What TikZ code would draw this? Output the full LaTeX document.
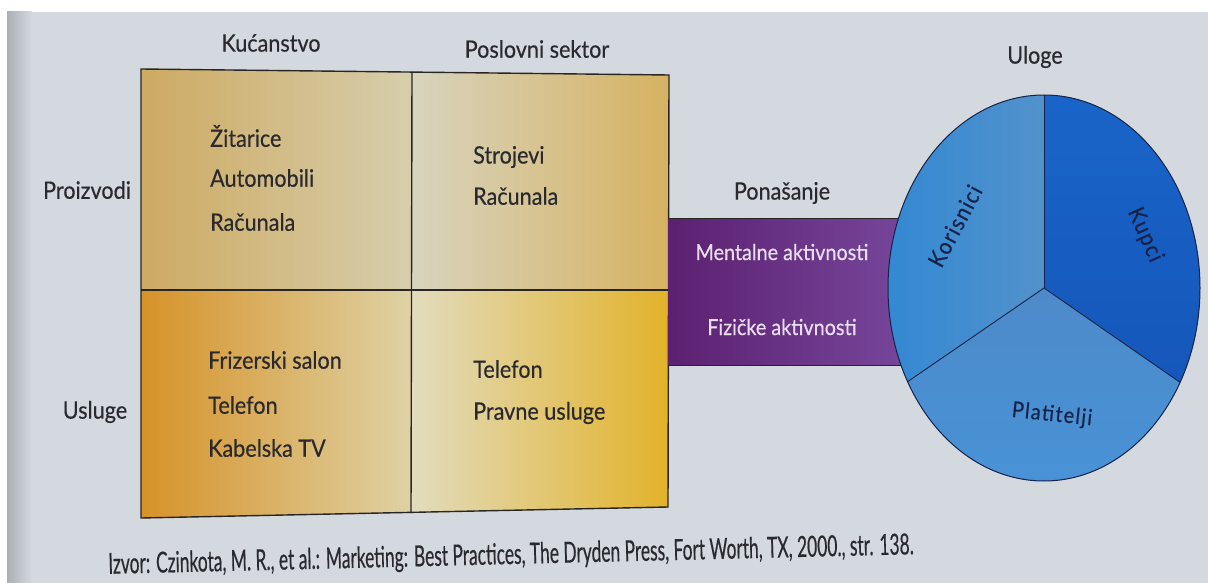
\documentclass[tikz,border=0pt]{standalone}
\usepackage{fontspec}
\setmainfont{Lato}
\newfontfamily\lblfont[FakeStretch=0.9,FakeBold=0.4]{Lato}
\newfontfamily\rolefont[FakeStretch=0.9,FakeBold=0.4,LetterSpace=6]{Lato}
\newfontfamily\condfont[FakeStretch=0.6,FakeBold=0.4]{Lato}
\usetikzlibrary{shapes.geometric}
\definecolor{pagebg}{RGB}{211,217,222}
\definecolor{edgeshade}{RGB}{170,176,182}
\definecolor{ink}{RGB}{42,42,46}
\definecolor{boxline}{RGB}{40,38,36}
\definecolor{tlL}{RGB}{206,170,98}
\definecolor{tlM}{RGB}{211,184,122}
\definecolor{tlR}{RGB}{214,206,172}
\definecolor{trL}{RGB}{216,212,190}
\definecolor{trR}{RGB}{214,178,98}
\definecolor{blL}{RGB}{214,146,40}
\definecolor{blM}{RGB}{219,178,78}
\definecolor{blR}{RGB}{222,210,165}
\definecolor{brL}{RGB}{226,220,190}
\definecolor{brR}{RGB}{226,178,42}
\definecolor{purL}{RGB}{92,32,112}
\definecolor{purM}{RGB}{104,46,134}
\definecolor{purR}{RGB}{126,82,168}
\definecolor{purtext}{RGB}{232,222,238}
\definecolor{korL}{RGB}{30,130,214}
\definecolor{korR}{RGB}{82,146,204}
\definecolor{kupT}{RGB}{26,102,202}
\definecolor{kupB}{RGB}{20,82,182}
\definecolor{plaT}{RGB}{78,138,202}
\definecolor{plaB}{RGB}{70,148,216}
\definecolor{navy}{RGB}{22,34,72}
\begin{document}
\begin{tikzpicture}[x=1pt,y=-1pt,
  lbl/.style={text=ink,font=\lblfont\fontsize{24}{28}\selectfont,inner sep=0pt},
  item/.style={lbl,anchor=west},
  purtxt/.style={text=purtext,font=\lblfont\fontsize{22}{26}\selectfont,inner sep=0pt},
  roletxt/.style={text=navy,font=\rolefont\fontsize{23}{28}\selectfont,inner sep=0pt},
  frame/.style={draw=boxline,line width=1.4pt},
  sectline/.style={draw=navy,line width=0.9pt}]
\useasboundingbox (0,0) rectangle (1208,583);
% page
\fill[white] (0,0) rectangle (1208,583);
\fill[pagebg] (7,12) rectangle (1208,583);
\shade[left color=edgeshade,right color=pagebg] (7,12) rectangle (32,583);
% grid corners
\coordinate (TL) at (141,69);
\coordinate (TM) at (412,72);
\coordinate (TR) at (669,75);
\coordinate (ML) at (141,290);
\coordinate (MM) at (411,290);
\coordinate (MR) at (668,290);
\coordinate (BL) at (141,518);
\coordinate (BM) at (411,513);
\coordinate (BR) at (668,507);
% cells
\shade[left color=tlL,middle color=tlM,right color=tlR] (TL) -- (TM) -- (MM) -- (ML) -- cycle;
\shade[left color=trL,right color=trR] (TM) -- (TR) -- (MR) -- (MM) -- cycle;
\shade[left color=blL,middle color=blM,right color=blR] (ML) -- (MM) -- (BM) -- (BL) -- cycle;
\shade[left color=brL,right color=brR] (MM) -- (MR) -- (BR) -- (BM) -- cycle;
\draw[frame] (TL) -- (TR) -- (BR) -- (BL) -- cycle;
\draw[frame] (TM) -- (BM);
\draw[frame] (ML) -- (MR);
% headers
\node[lbl] (kuc) at (271,43) {Kućanstvo};
\node[lbl] (pos) at (537,49) {Poslovni sektor};
\node[lbl] (pro) at (87,190) {Proizvodi};
\node[lbl] (usl) at (95,412) {Usluge};
% cell items
\node[item] (z1) at (210,136) {Žitarice};
\node[item] (z2) at (210,178) {Automobili};
\node[item] (z3) at (210,222) {Računala};
\node[item] (s1) at (473,157) {Strojevi};
\node[item] (s2) at (473,196) {Računala};
\node[item] (f1) at (208,360) {Frizerski salon};
\node[item] (f2) at (208,405) {Telefon};
\node[item] (f3) at (208,448) {Kabelska TV};
\node[item] (t1) at (473,369) {Telefon};
\node[item] (t2) at (473,413) {Pravne usluge};
% behaviour band
\coordinate (PTL) at (668,218);
\coordinate (PBR) at (980,365);
\shade[left color=purL,middle color=purM,right color=purR] (PTL) rectangle (PBR);
\draw[draw=boxline,line width=1pt] (668,218) -- (980,218) (668,365) -- (980,365);
\node[lbl] (pon) at (782,193) {Ponašanje};
\node[purtxt] (men) at (782,252) {Mentalne aktivnosti};
\node[purtxt] (fiz) at (782,327) {Fizičke aktivnosti};
% roles ellipse
\node[ellipse,minimum width=312,minimum height=386,inner sep=0pt] (roles) at (1044,288) {};
\coordinate (ll) at (907.6,381.7);
\coordinate (lr) at (1180.1,382.4);
\begin{scope}
\clip (1044,288) ellipse [x radius=156pt, y radius=193pt];
\shade[left color=korL,right color=korR] (roles.center) -- (1044,60) -- (860,60) -- (782,468) -- cycle;
\shade[top color=kupT,bottom color=kupB] (roles.center) -- (1044,60) -- (1240,60) -- (1318,478) -- cycle;
\shade[top color=plaT,bottom color=plaB] (roles.center) -- (782,468) -- (1044,520) -- (1318,478) -- cycle;
\end{scope}
\draw[sectline] (roles.center) -- (roles.north);
\draw[sectline] (roles.center) -- (ll);
\draw[sectline] (roles.center) -- (lr);
\draw[draw=navy,line width=1pt] (1044,288) ellipse [x radius=156pt, y radius=193pt];
\node[lbl] (ulo) at (1035,57) {Uloge};
\node[roletxt,rotate=62] (kor) at (955,226) {Korisnici};
\node[roletxt,rotate=-66] (kup) at (1145,235) {Kupci};
\node[roletxt,font=\rolefont\fontsize{22}{26}\selectfont,rotate=-6] (pla) at (1052,415) {Platitelji};
% source
\node[text=ink,font=\condfont\fontsize{29}{32}\selectfont,inner sep=0pt,rotate=1.4] (src) at (511,556)
  {Izvor: Czinkota, M. R., et al.: Marketing: Best Practices, The Dryden Press, Fort Worth, TX, 2000., str. 138.};
\end{tikzpicture}
\end{document}
